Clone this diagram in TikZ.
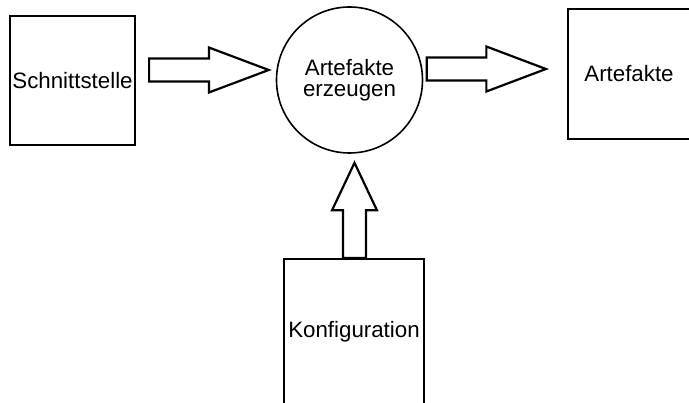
\documentclass[tikz,border=0pt]{standalone}
\usepackage{fontspec}
\setmainfont{Liberation Sans}
\usetikzlibrary{calc}

\tikzset{
  box/.style={draw, line width=2.2pt, inner sep=0pt},
  proc/.style={draw, circle, line width=1.6pt, inner sep=0pt, minimum size=146pt, align=center},
  blockarrow/.style={draw, line width=2.2pt, line join=miter, fill=white}
}

% fat outlined arrow from tail #1 to tip #2, head takes the second half
\newcommand{\fatarrow}[2]{%
  \coordinate (mid) at ($(#1)!0.5!(#2)$);
  \draw[blockarrow]
    ($(#1)!11.5pt!90:(#2)$) -- ($(mid)!11.5pt!-90:(#1)$)
    -- ($(mid)!22.5pt!-90:(#1)$) -- (#2)
    -- ($(mid)!22.5pt!90:(#1)$) -- ($(mid)!11.5pt!90:(#1)$)
    -- ($(#1)!11.5pt!-90:(#2)$) -- cycle;}

\begin{document}
\begin{tikzpicture}[x=1pt, y=-1pt, font=\fontsize{22.3}{20.7}\selectfont]
  \useasboundingbox (0,0) rectangle (689,403);
  \clip (0,0) rectangle (689,403);

  \node[box, minimum width=125pt, minimum height=129pt] (schnitt) at (72.5,80.5) {Schnittstelle};
  \node[proc] (erzeugen) at (349.5,80) {Artefakte\\erzeugen};
  \node[box, minimum width=122pt, minimum height=130pt] (artefakte) at (629,74) {Artefakte};
  \node[box, minimum width=140pt, minimum height=145pt] (konfig) at (354,331.5) {Konfiguration};

  \coordinate (a1t) at ($(schnitt.east)+(13,-10.5)$);
  \coordinate (a1h) at ($(erzeugen.west)+(-7,-10)$);
  \coordinate (a2t) at ($(erzeugen.east)+(3.5,-11)$);
  \coordinate (a2h) at ($(artefakte.west)+(-21,-5)$);
  \coordinate (a3t) at ($(konfig.north)+(0.5,0)$);
  \coordinate (a3h) at ($(erzeugen.south)+(5,9)$);

  \fatarrow{a1t}{a1h}
  \fatarrow{a2t}{a2h}
  \fatarrow{a3t}{a3h}
\end{tikzpicture}
\end{document}
